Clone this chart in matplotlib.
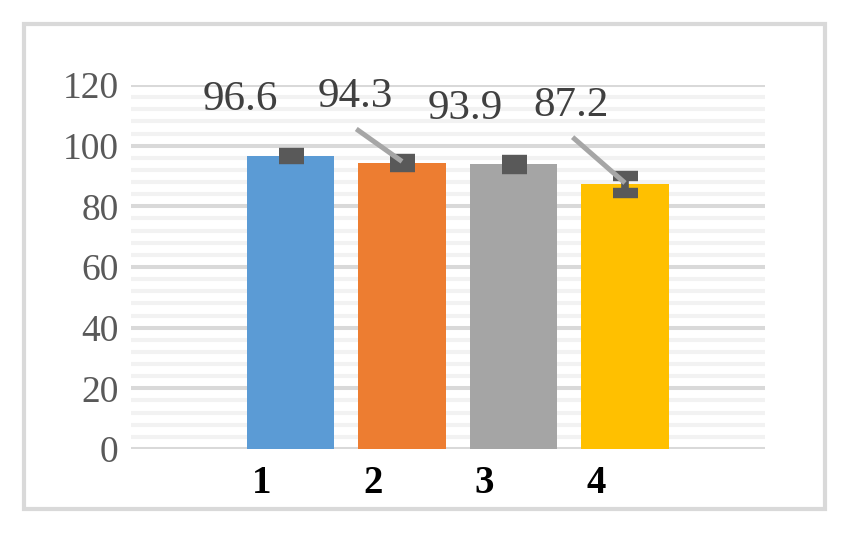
import matplotlib
matplotlib.use("Agg")
import matplotlib.pyplot as plt
from matplotlib.patches import Rectangle
import numpy as np

categories = ["1", "2", "3", "4"]
values = [96.6, 94.3, 93.9, 87.2]
errors = [1.0, 1.3, 1.5, 2.8]
colors = ["#5b9bd5", "#ed7d31", "#a5a5a5", "#ffc000"]
yticks = [0, 20, 40, 60, 80, 100, 120]

plt.rcParams['font.family'] = ['Liberation Serif', 'DejaVu Serif']

fig = plt.figure(figsize=(8.45, 5.33), dpi=100)
ax = fig.add_axes([131/845, 1-449/533, (765-131)/845, (449-85)/533])

x = np.arange(1, len(values) + 1)

# gridlines
for v in np.arange(0, 121, 4):
    if v % 20 == 0:
        continue
    ax.axhline(v, color="#f2f2f2", lw=2.9, zorder=0)
for v in yticks:
    ax.axhline(v, color="#d9d9d9", lw=2.9, zorder=0.5)

ax.bar(x, values, width=0.785, color=colors, zorder=2)
ax.errorbar(x, values, yerr=errors, fmt='none', ecolor="#595959",
            elinewidth=5.5, capsize=9, capthick=7.5, zorder=3)

ax.set_xlim(1 - 1.4305, 4 + 1.2556)
ax.set_ylim(0, 120)
ax.set_yticks(yticks)
ax.set_yticklabels([str(t) for t in yticks], fontsize=27, color="#595959")
ax.tick_params(axis='y', length=0, pad=9)
ax.set_xticks([])
for s in ax.spines.values():
    s.set_visible(False)

# category labels (offset left as in the reference)
for xi, c in zip(x, categories):
    ax.text(xi - 0.26, -11.3, c, ha='center', va='center', fontsize=28,
            fontweight='bold', color="black", clip_on=False)

# data labels
label_pos = [(-0.45, 115.0), (-0.42, 116.0), (-0.43, 112.3), (-0.48, 113.3)]
for xi, v, (dx, ly) in zip(x, values, label_pos):
    ax.text(xi + dx, ly, f"{v:.1f}", ha='center', va='center', fontsize=31,
            color="#404040", zorder=5)

# leader lines for labels 2 and 4
ax.plot([2 - 0.41, 2], [105.5, 94.8], color="#a6a6a6", lw=3.6, zorder=4,
        solid_capstyle='butt')
ax.plot([4 - 0.47, 4], [102.8, 87.7], color="#a6a6a6", lw=3.6, zorder=4,
        solid_capstyle='butt')

# outer border
fig.patches.append(Rectangle((24/845, 1-509/533), (825.5-24)/845, (509-24)/533,
                             transform=fig.transFigure, fill=False,
                             edgecolor="#d9d9d9", lw=3))

fig.savefig("out.png", dpi=100)
